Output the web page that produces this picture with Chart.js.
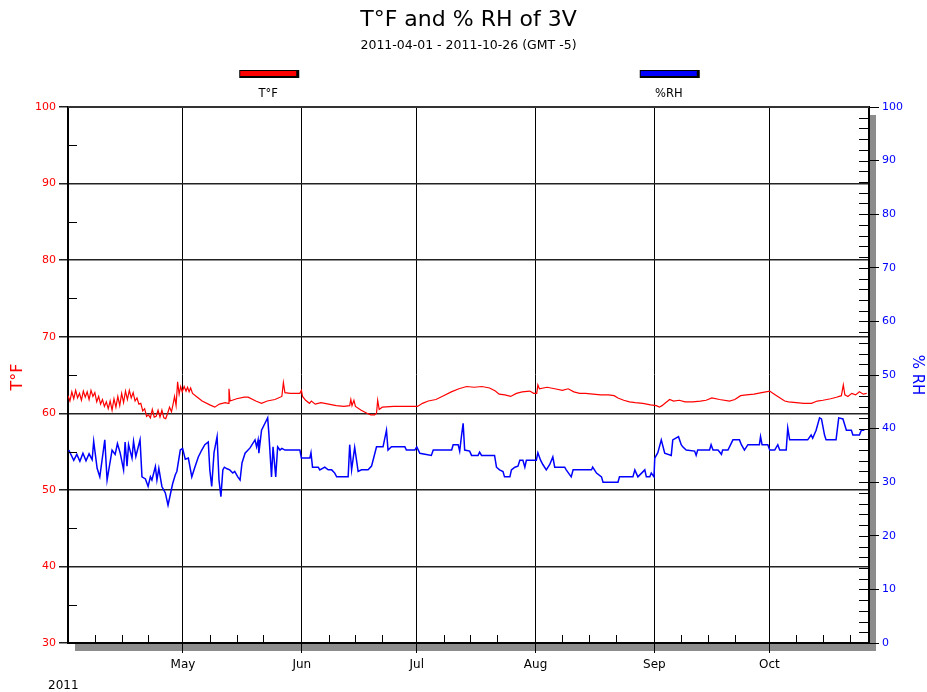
<!DOCTYPE html>
<html>
<head>
<meta charset="utf-8">
<title>T°F and % RH of 3V</title>
<script src="https://cdn.jsdelivr.net/npm/chart.js@4.4.0/dist/chart.umd.min.js"></script>
<style>
  html, body { margin: 0; padding: 0; background: #fff; }
</style>
</head>
<body>
<canvas id="rhChart" width="927" height="692"></canvas>
<script>
// x values are days since 2011-04-01 00:00
const tempDay = [0,0.5,1,1.5,2,2.5,3,3.5,4,4.5,
  5,5.5,6,6.5,7,7.5,8,8.5,9,9.5,
  10,10.5,11,11.5,12,12.5,13,13.5,14,14.5,
  15,15.5,16,16.5,17,17.5,18,18.5,19,19.5,
  20,20.5,21,21.5,22,22.5,23,23.5,24,24.5,
  25,25.5,26,26.5,27,27.5,27.8,28.2,28.6,29,
  29.4,29.8,30.3,30.8,31.2,31.6,32,32.5,33.5,35,
  37,38.3,39.5,41,41.8,42,42.3,44,46,47,
  49,50.5,52,54,55.8,56.2,56.6,58,60.5,60.9,
  61.2,62,63,63.5,64.5,66,68,70,72,73.5,
  73.8,74.1,74.6,75,76.5,78,79,80,80.5,80.8,
  81.2,82,85,88,91.2,92.5,94,96,98,100,
  102,104,106,108,110,111.5,112.5,114,115.5,117,
  118.5,120.5,121.5,122.3,122.6,123,125,127,129,130.5,
  132,133.5,135,137,139,141,142.5,143.5,145,146.5,
  148,150,152,153.5,154.3,155,156,157,158,159.5,
  161,163,165,166.5,168,170,172.6,174,175.5,177,
  179,181,183.1,184,185.5,187,188,190,192,194,
  195.5,197,199,200.5,201.8,202.3,202.7,203.5,204.5,205.5,
  206.5,207.5,208.4];
const tempF = [62.3,61.6,62.8,61.9,63.0,62.0,62.6,61.7,62.9,62.1,
  62.8,61.8,63.0,62.2,62.7,61.5,62.2,61.2,61.8,60.9,
  61.5,60.6,61.6,60.4,61.9,60.8,62.2,61.0,62.6,61.4,
  62.9,61.8,63.0,62.0,62.7,61.6,62.0,61.2,61.3,60.3,
  60.6,59.6,59.8,59.4,60.5,59.5,59.6,60.4,59.5,60.4,
  59.4,59.3,60.0,60.8,60.2,61.4,62.2,61.0,64.1,62.5,
  63.5,62.8,63.5,62.9,63.4,62.8,63.3,62.6,62.2,61.6,
  61.1,60.8,61.2,61.4,61.3,63.2,61.6,61.9,62.1,62.1,
  61.6,61.3,61.6,61.8,62.2,64.0,62.7,62.6,62.6,63.0,
  62.2,61.7,61.3,61.6,61.2,61.4,61.2,61.0,60.9,61.0,
  61.8,61.0,61.7,60.9,60.4,60.0,59.8,59.8,60.0,61.7,
  60.5,60.8,60.9,60.9,60.9,61.3,61.6,61.8,62.3,62.8,
  63.2,63.5,63.4,63.5,63.3,62.9,62.5,62.4,62.2,62.6,
  62.8,62.9,62.6,62.6,63.7,63.2,63.4,63.2,63.0,63.2,
  62.8,62.6,62.6,62.5,62.4,62.4,62.3,62.0,61.7,61.5,
  61.4,61.3,61.1,61.0,60.8,61.0,61.4,61.8,61.6,61.7,
  61.5,61.5,61.6,61.7,62.0,61.8,61.6,61.8,62.3,62.4,
  62.5,62.7,62.9,62.6,62.1,61.6,61.5,61.4,61.3,61.3,
  61.6,61.7,61.9,62.1,62.3,63.7,62.4,62.2,62.6,62.4,
  62.8,62.5,62.6];

const rhDay = [0.2,1.5,2.3,3.1,3.9,4.7,5.5,6.3,6.7,7.6,
  8.3,9.6,10.2,11.5,12.3,12.9,13.6,14.5,14.9,15.4,
  15.8,16.7,17.1,17.7,18.8,19.3,20.2,20.9,21.5,21.9,
  22.8,23.2,23.7,24.5,25.4,26.1,26.7,27.3,28.0,28.4,
  29.3,29.9,30.6,31.4,32.3,33.1,34.0,34.9,35.7,36.6,
  37.0,37.5,38.1,38.9,39.4,39.9,40.4,40.8,41.5,42.2,
  43.0,43.5,44.3,44.9,45.4,46.2,47.5,48.8,49.2,49.6,
  49.8,50.5,51.4,52.1,52.4,53.1,53.5,54.2,54.7,55.3,
  55.8,56.6,60.5,60.9,63.1,63.4,63.8,65.3,65.7,67.0,
  67.9,68.8,69.6,70.1,73.1,73.5,74.0,74.8,75.7,76.6,
  78.3,79.2,79.6,80.5,82.2,83.1,83.5,84.4,87.9,88.3,
  90.5,91.0,91.8,94.8,95.3,100.1,100.5,101.8,102.2,102.7,
  103.1,103.5,104.8,105.3,107.0,107.4,107.9,111.3,111.8,112.6,
  113.5,113.9,115.3,115.7,116.6,117.4,117.9,118.7,119.2,119.6,
  122.2,122.6,123.3,123.9,124.8,125.7,126.5,127.0,129.6,130.0,
  131.3,131.8,136.6,136.9,137.9,139.2,139.6,143.5,143.9,147.4,
  147.9,148.7,150.5,150.9,151.8,152.2,152.9,153.1,153.9,154.8,
  155.7,157.4,157.8,159.3,160.0,160.4,161.3,163.5,163.9,164.3,
  167.4,167.8,168.3,169.6,170.5,170.8,172.2,173.5,175.2,175.7,
  176.5,177.4,180.4,180.7,181.1,182.6,183.1,184.4,185.2,185.7,
  187.4,187.8,188.3,193.0,193.9,194.3,195.2,196.1,196.6,197.4,
  197.8,200.4,201.1,202.2,203.1,204.4,204.8,206.5,207.0,207.8];
const rhPct = [36.0,34.1,35.2,33.9,35.4,34.0,35.3,34.2,37.6,32.6,
  31.0,37.9,30.4,36.0,35.2,37.2,35.5,32.3,37.5,33.0,
  37.0,34.5,37.6,34.8,37.9,31.0,30.6,29.2,31.0,30.4,
  32.9,30.4,32.6,29.2,28.0,25.7,27.7,29.7,31.4,32.0,
  36.0,36.3,34.3,34.5,31.0,32.8,34.7,36.0,37.0,37.5,
  32.3,29.2,35.5,38.5,30.4,27.3,32.3,32.8,32.5,32.3,
  31.7,32.0,31.0,30.4,33.6,35.4,36.4,37.9,36.6,37.9,
  35.4,39.7,41.0,42.0,39.2,31.0,36.6,31.0,36.6,36.0,
  36.3,36.0,36.0,34.5,34.5,35.5,32.8,32.8,32.3,32.8,
  32.3,32.3,31.7,31.0,31.0,37.0,32.3,36.5,32.0,32.3,
  32.3,33.0,34.1,36.6,36.6,39.7,36.0,36.6,36.6,36.0,
  36.0,36.6,35.4,35.0,36.0,36.0,37.0,37.0,35.8,38.8,
  41.0,36.0,35.8,35.0,35.0,35.6,35.0,35.0,32.8,32.3,
  32.0,31.0,31.0,32.3,32.8,33.0,34.1,34.1,32.8,34.1,
  34.1,35.5,34.1,33.3,32.3,33.3,34.7,32.8,32.8,32.3,
  31.0,32.3,32.3,32.8,31.7,31.0,30.0,30.0,31.0,31.0,
  32.3,31.0,32.3,31.0,31.0,31.7,31.0,34.5,35.5,37.9,
  35.4,35.0,37.9,38.5,37.0,36.6,36.0,35.8,35.0,36.0,
  36.0,37.0,36.0,36.0,35.2,36.0,36.0,37.9,37.9,37.0,
  36.0,37.0,37.0,38.5,37.0,37.0,36.0,36.0,37.0,36.0,
  36.0,40.1,37.9,37.9,38.8,38.2,39.7,42.0,41.8,38.8,
  37.9,37.9,42.0,41.8,39.7,39.7,38.8,38.8,39.7,39.7];

const monthStarts = [30, 61, 91, 122, 153, 183];
const monthNames = ["May", "Jun", "Jul", "Aug", "Sep", "Oct"];
const weekOffsets = [7, 14, 21]; // the 8th, 15th and 22nd
const dayMax = 209; // 2011-10-27 00:00
const yearLabel = "2011";
const titleText = "T°F and % RH of 3V";
const subtitleText = "2011-04-01 - 2011-10-26 (GMT -5)";

const FONT = '"DejaVu Sans", Verdana, sans-serif';

const framePlugin = {
  id: "frame",
  beforeDraw(chart) {
    const { ctx, chartArea: a } = chart;
    ctx.save();
    ctx.fillStyle = "#fff";
    ctx.fillRect(0, 0, chart.width, chart.height);
    // drop shadow right and below the plot
    ctx.fillStyle = "#8c8c8c";
    ctx.fillRect(a.right, a.top + 8, 7, a.bottom - a.top);
    ctx.fillRect(a.left + 7, a.bottom, a.right - a.left, 8);
    ctx.restore();
  },
  afterDraw(chart) {
    const { ctx, chartArea: a, scales } = chart;
    const yT = scales.yT, yRH = scales.yRH, x = scales.x;
    ctx.save();
    ctx.strokeStyle = "#000";
    ctx.lineWidth = 1;

    // inside tick marks
    ctx.beginPath();
    for (let v = 35; v < 100; v += 10) {
      const py = Math.round(yT.getPixelForValue(v)) + 0.5;
      ctx.moveTo(a.left, py);
      ctx.lineTo(a.left + 9, py);
    }
    for (let v = 2; v < 100; v += 2) {
      const py = Math.round(yRH.getPixelForValue(v)) + 0.5;
      ctx.moveTo(a.right - 10, py);
      ctx.lineTo(a.right, py);
    }
    const minor = [0].concat(monthStarts);
    minor.forEach((s) => {
      weekOffsets.forEach((o) => {
        const px = Math.round(x.getPixelForValue(s + o)) + 0.5;
        if (px < a.right - 2) {
          ctx.moveTo(px, a.bottom);
          ctx.lineTo(px, a.bottom - 8);
        }
      });
    });
    ctx.stroke();

    // top border
    ctx.strokeStyle = "#333";
    ctx.lineWidth = 2;
    ctx.beginPath();
    ctx.moveTo(a.left, a.top);
    ctx.lineTo(a.right, a.top);
    ctx.stroke();

    const cx = (a.left + a.right) / 2;
    ctx.textAlign = "center";
    ctx.textBaseline = "middle";
    ctx.fillStyle = "#000";
    ctx.font = "22px " + FONT;
    ctx.fillText(titleText, cx, 20);
    ctx.font = "12.5px " + FONT;
    ctx.fillText(subtitleText, cx, 46);

    // legend: swatch above, label below
    chart.data.datasets.forEach((ds, i) => {
      const lx = a.left + (a.right - a.left) * (i === 0 ? 0.25 : 0.75);
      ctx.fillStyle = "#000";
      ctx.fillRect(lx - 29, 70, 60, 8);
      ctx.fillStyle = ds.borderColor;
      ctx.fillRect(lx - 28, 71, 56, 5);
      ctx.fillStyle = "#000";
      ctx.font = "11.5px " + FONT;
      ctx.fillText(ds.label, lx, 94);
    });

    // axis titles
    ctx.save();
    ctx.translate(18, (a.top + a.bottom) / 2 + 2);
    ctx.rotate(-Math.PI / 2);
    ctx.fillStyle = "#ff0000";
    ctx.font = "16px " + FONT;
    ctx.fillText("T°F", 0, 0);
    ctx.restore();
    ctx.save();
    ctx.translate(917, (a.top + a.bottom) / 2);
    ctx.rotate(Math.PI / 2);
    ctx.fillStyle = "#0000ff";
    ctx.font = "15px " + FONT;
    ctx.fillText("% RH", 0, 0);
    ctx.restore();

    ctx.textAlign = "left";
    ctx.fillStyle = "#000";
    ctx.font = "12px " + FONT;
    ctx.fillText(yearLabel, 48, 686);
    ctx.restore();
  },
};

new Chart(document.getElementById("rhChart").getContext("2d"), {
  type: "line",
  data: {
    datasets: [
      {
        label: "T°F",
        data: tempDay.map((d, i) => ({ x: d, y: tempF[i] })),
        borderColor: "#ff0000",
        borderWidth: 1.2,
        pointRadius: 0,
        tension: 0,
        yAxisID: "yT",
      },
      {
        label: "%RH",
        data: rhDay.map((d, i) => ({ x: d, y: rhPct[i] })),
        borderColor: "#0000ff",
        borderWidth: 1.5,
        pointRadius: 0,
        tension: 0,
        yAxisID: "yRH",
      },
    ],
  },
  options: {
    responsive: false,
    animation: false,
    layout: { padding: { top: 107, left: 0, right: 0, bottom: 0 } },
    plugins: {
      legend: { display: false },
      title: { display: false },
      tooltip: { enabled: false },
    },
    scales: {
      x: {
        type: "linear",
        min: 0,
        max: dayMax,
        afterBuildTicks: (s) => {
          s.ticks = monthStarts.map((v) => ({ value: v }));
        },
        afterFit: (s) => {
          s.height = 49;
        },
        ticks: {
          callback: (v) => monthNames[monthStarts.indexOf(v)],
          color: "#000",
          font: { family: FONT, size: 12 },
          maxRotation: 0,
          autoSkip: false,
          padding: 5,
        },
        grid: { color: "#000", lineWidth: 1, tickLength: 10 },
        border: { color: "#000", width: 2 },
      },
      yT: {
        position: "left",
        min: 30,
        max: 100,
        afterFit: (s) => {
          s.width = 68;
        },
        ticks: {
          stepSize: 10,
          color: "#ff0000",
          font: { family: FONT, size: 11 },
          padding: 3,
        },
        grid: { color: "#222", lineWidth: 1.5, tickLength: 9 },
        border: { color: "#000", width: 2 },
      },
      yRH: {
        position: "right",
        min: 0,
        max: 100,
        afterFit: (s) => {
          s.width = 58;
        },
        ticks: {
          stepSize: 10,
          color: "#0000ff",
          font: { family: FONT, size: 11 },
          padding: 3,
        },
        grid: { drawOnChartArea: false, color: "#000", lineWidth: 1, tickLength: 10 },
        border: { color: "#000", width: 2 },
      },
    },
  },
  plugins: [framePlugin],
});
</script>
</body>
</html>
